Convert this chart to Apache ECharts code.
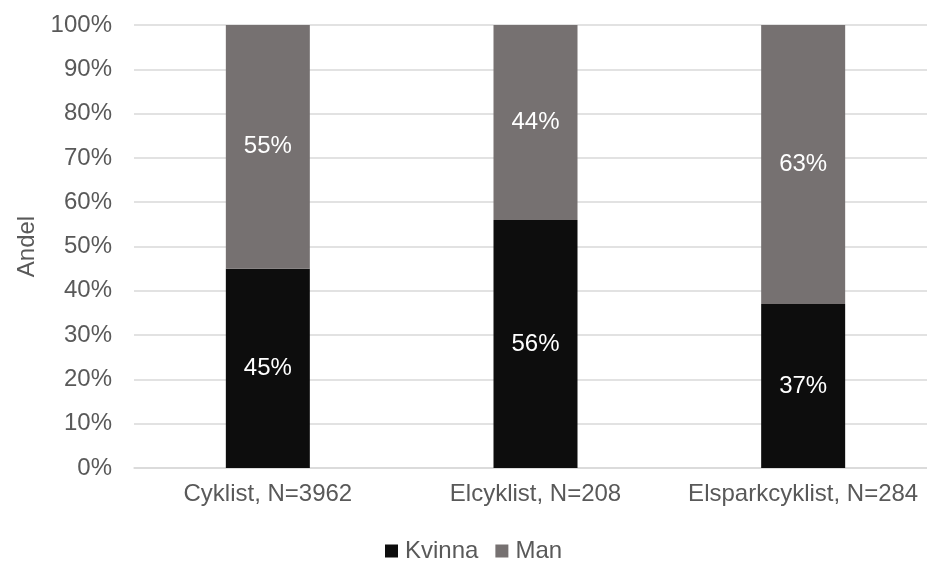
<!DOCTYPE html>
<html><head><meta charset="utf-8">
<script src="https://cdn.jsdelivr.net/npm/echarts@6/dist/echarts.min.js"></script>
<style>html,body{margin:0;padding:0;background:#fff;overflow:hidden}#c{width:937px;height:561px}</style>
</head><body><div id="c"></div>
<script>
const categories = ['Cyklist, N=3962', 'Elcyklist, N=208', 'Elsparkcyklist, N=284'];
const kvinna = [45, 56, 37];
const man = [55, 44, 63];
const yTicks = [0,10,20,30,40,50,60,70,80,90,100];

const FONT = '"Liberation Sans", Arial, sans-serif';
const chart = echarts.init(document.getElementById('c'));
chart.setOption({
  animation: false,
  textStyle: { fontFamily: FONT },
  grid: { left: 134, right: 0, top: 25, bottom: 93, containLabel: false },
  legend: {
    data: ['Kvinna', 'Man'],
    left: 385, top: 539, padding: 0,
    itemWidth: 13, itemHeight: 13, itemGap: 17,
    icon: 'rect',
    textStyle: { fontFamily: FONT, fontSize: 24, color: '#595959', padding: [0,0,0,2] }
  },
  xAxis: {
    type: 'category', data: categories,
    axisLine: { lineStyle: { color: '#d9d9d9', width: 1.5 } },
    axisTick: { show: false },
    axisLabel: { color: '#595959', fontSize: 24, margin: 14, fontFamily: FONT, interval: 0 }
  },
  yAxis: {
    type: 'value', min: 0, max: 100, interval: 10,
    name: 'Andel', nameLocation: 'middle', nameGap: 90, nameRotate: 90,
    nameTextStyle: { color: '#595959', fontSize: 24, fontFamily: FONT },
    axisLine: { show: false }, axisTick: { show: false },
    axisLabel: { color: '#595959', fontSize: 24, margin: 22, fontFamily: FONT,
      formatter: v => yTicks.includes(v) ? v + '%' : '' },
    splitLine: { lineStyle: { color: '#d9d9d9', width: 1.5 } }
  },
  series: [
    { name: 'Kvinna', type: 'bar', stack: 'a', data: kvinna, barWidth: 84,
      itemStyle: { color: '#0d0d0d' },
      label: { show: true, position: 'inside', color: '#ffffff', fontSize: 24, fontFamily: FONT, formatter: p => p.value + '%' } },
    { name: 'Man', type: 'bar', stack: 'a', data: man, barWidth: 84,
      itemStyle: { color: '#767171' },
      label: { show: true, position: 'inside', color: '#ffffff', fontSize: 24, fontFamily: FONT, formatter: p => p.value + '%' } }
  ]
});
</script></body></html>
